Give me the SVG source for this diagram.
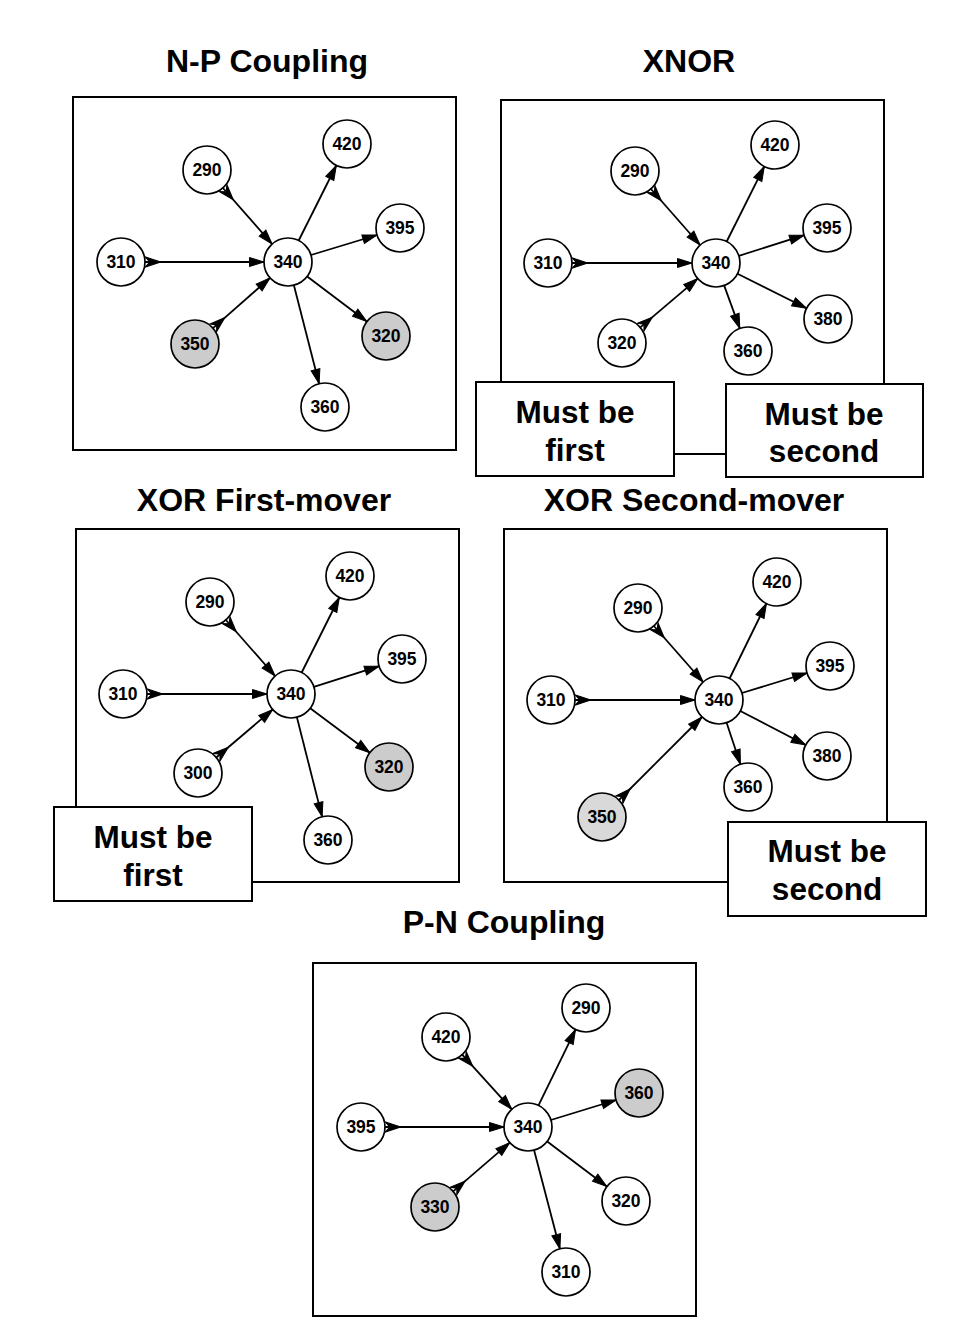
<svg xmlns="http://www.w3.org/2000/svg" width="960" height="1344" viewBox="0 0 960 1344">
<style>
.title{font-family:"Liberation Sans",Arial,sans-serif;font-weight:bold;font-size:32px;text-anchor:middle;fill:#000}
.note{font-family:"Liberation Sans",Arial,sans-serif;font-weight:bold;font-size:31.5px;text-anchor:middle;fill:#000}
.lbl{font-family:"Liberation Sans",Arial,sans-serif;font-weight:bold;font-size:17.5px;text-anchor:middle;fill:#000}
.panel{fill:#fff;stroke:#000;stroke-width:2}
.nbox{fill:#fff;stroke:#000;stroke-width:2}
.n{fill:#fff;stroke:#000;stroke-width:1.7}
.g{fill:#cccccc;stroke:#000;stroke-width:1.7}
.g2{fill:#d9d9d9;stroke:#000;stroke-width:1.7}
.e{stroke:#000;stroke-width:1.8;fill:none;marker-end:url(#arr)}
.in{marker-start:url(#tail)}
</style>
<defs>
<marker id="arr" markerUnits="userSpaceOnUse" markerWidth="16" markerHeight="12" refX="15" refY="6" orient="auto" overflow="visible">
<path d="M0.5,1.5 L15,6 L0.5,10.5 Z" fill="#000" stroke="#000" stroke-width="1" stroke-linejoin="miter"/>
</marker>
<marker id="tail" markerUnits="userSpaceOnUse" markerWidth="17" markerHeight="13" refX="0" refY="6.5" orient="auto" overflow="visible">
<path d="M0.5,1.5 L15.5,6.5 L0.5,11.5 L5,6.5 Z" fill="#000" stroke="#000" stroke-width="1.2" stroke-linejoin="miter"/>
</marker>
</defs>
<rect width="960" height="1344" fill="#fff"/>

<g id="titles">
<text class="title" x="267" y="72">N-P Coupling</text>
<text class="title" x="689" y="72">XNOR</text>
<text class="title" x="264" y="511">XOR First-mover</text>
<text class="title" x="694" y="511">XOR Second-mover</text>
<text class="title" x="504" y="933">P-N Coupling</text>
</g>

<g id="panels">
<rect class="panel" x="73" y="97" width="383" height="353"/>
<rect class="panel" x="501" y="100" width="383" height="354"/>
<rect class="panel" x="76" y="529" width="383" height="353"/>
<rect class="panel" x="504" y="529" width="383" height="353"/>
<rect class="panel" x="313" y="963" width="383" height="353"/>
</g>

<g id="connectors">
<!-- Panel 1 -->
<line class="e in" x1="222.9" y1="188" x2="272.1" y2="244"/>
<line class="e in" x1="145" y1="262" x2="264" y2="262"/>
<line class="e in" x1="213" y1="328.1" x2="270" y2="277.9"/>
<line class="e" x1="298.7" y1="240.5" x2="336.3" y2="165.5"/>
<line class="e" x1="311" y1="255" x2="377" y2="235"/>
<line class="e" x1="307.2" y1="276.5" x2="366.8" y2="321.5"/>
<line class="e" x1="293.9" y1="285.3" x2="319.1" y2="383.7"/>
<!-- Panel 2 -->
<line class="e in" x1="650.9" y1="189" x2="700.1" y2="245"/>
<line class="e in" x1="572" y1="263" x2="692" y2="263"/>
<line class="e in" x1="640.3" y1="327.4" x2="697.7" y2="278.6"/>
<line class="e" x1="726.7" y1="241.5" x2="764.3" y2="166.5"/>
<line class="e" x1="738.9" y1="255.8" x2="804.1" y2="235.2"/>
<line class="e" x1="737.5" y1="273.7" x2="806.5" y2="308.3"/>
<line class="e" x1="724.2" y1="285.6" x2="739.8" y2="328.4"/>
<!-- Panel 3 -->
<line class="e in" x1="225.9" y1="620" x2="275.1" y2="676"/>
<line class="e in" x1="147" y1="694" x2="267" y2="694"/>
<line class="e in" x1="216.3" y1="757.5" x2="272.7" y2="709.5"/>
<line class="e" x1="301.7" y1="672.5" x2="339.3" y2="597.5"/>
<line class="e" x1="313.9" y1="686.8" x2="379.1" y2="666.2"/>
<line class="e" x1="310.2" y1="708.3" x2="369.8" y2="752.7"/>
<line class="e" x1="296.9" y1="717.3" x2="322.1" y2="816.7"/>
<!-- Panel 4 -->
<line class="e in" x1="653.9" y1="626" x2="703.1" y2="682"/>
<line class="e in" x1="575" y1="700" x2="695" y2="700"/>
<line class="e in" x1="619" y1="800" x2="702" y2="717"/>
<line class="e" x1="729.6" y1="678.5" x2="766.4" y2="603.5"/>
<line class="e" x1="741.9" y1="693" x2="807.1" y2="673"/>
<line class="e" x1="740.3" y1="711" x2="805.7" y2="745"/>
<line class="e" x1="726.6" y1="722.8" x2="740.4" y2="764.2"/>
<!-- Panel 5 -->
<line class="e in" x1="462.2" y1="1054.7" x2="511.8" y2="1109.3"/>
<line class="e in" x1="385" y1="1127" x2="504" y2="1127"/>
<line class="e in" x1="453.2" y1="1191.4" x2="509.8" y2="1142.6"/>
<line class="e" x1="538.5" y1="1105.4" x2="575.5" y2="1029.6"/>
<line class="e" x1="550.9" y1="1120" x2="616.1" y2="1100"/>
<line class="e" x1="547.2" y1="1141.5" x2="606.8" y2="1186.5"/>
<line class="e" x1="534.1" y1="1150.2" x2="559.9" y2="1248.8"/>
<!-- note link -->
<line x1="674" y1="454" x2="726" y2="454" stroke="#000" stroke-width="2"/>
</g>

<!-- Panel 1 nodes -->
<g id="p1-290"><circle class="n" cx="207" cy="170" r="24"/><text class="lbl" x="207" y="176">290</text></g>
<g id="p1-310"><circle class="n" cx="121" cy="262" r="24"/><text class="lbl" x="121" y="268">310</text></g>
<g id="p1-340"><circle class="n" cx="288" cy="262" r="24"/><text class="lbl" x="288" y="268">340</text></g>
<g id="p1-350"><circle class="g" cx="195" cy="344" r="24"/><text class="lbl" x="195" y="350">350</text></g>
<g id="p1-420"><circle class="n" cx="347" cy="144" r="24"/><text class="lbl" x="347" y="150">420</text></g>
<g id="p1-395"><circle class="n" cx="400" cy="228" r="24"/><text class="lbl" x="400" y="234">395</text></g>
<g id="p1-320"><circle class="g" cx="386" cy="336" r="24"/><text class="lbl" x="386" y="342">320</text></g>
<g id="p1-360"><circle class="n" cx="325" cy="407" r="24"/><text class="lbl" x="325" y="413">360</text></g>

<!-- Panel 2 nodes -->
<g id="p2-290"><circle class="n" cx="635" cy="171" r="24"/><text class="lbl" x="635" y="177">290</text></g>
<g id="p2-310"><circle class="n" cx="548" cy="263" r="24"/><text class="lbl" x="548" y="269">310</text></g>
<g id="p2-340"><circle class="n" cx="716" cy="263" r="24"/><text class="lbl" x="716" y="269">340</text></g>
<g id="p2-320"><circle class="n" cx="622" cy="343" r="24"/><text class="lbl" x="622" y="349">320</text></g>
<g id="p2-420"><circle class="n" cx="775" cy="145" r="24"/><text class="lbl" x="775" y="151">420</text></g>
<g id="p2-395"><circle class="n" cx="827" cy="228" r="24"/><text class="lbl" x="827" y="234">395</text></g>
<g id="p2-380"><circle class="n" cx="828" cy="319" r="24"/><text class="lbl" x="828" y="325">380</text></g>
<g id="p2-360"><circle class="n" cx="748" cy="351" r="24"/><text class="lbl" x="748" y="357">360</text></g>
<g id="p2-first"><rect class="nbox" x="476" y="382" width="198" height="94"/><text class="note" x="575" y="423">Must be</text><text class="note" x="575" y="461">first</text></g>
<g id="p2-second"><rect class="nbox" x="726" y="384" width="197" height="93"/><text class="note" x="824" y="425">Must be</text><text class="note" x="824" y="462">second</text></g>

<!-- Panel 3 nodes -->
<g id="p3-290"><circle class="n" cx="210" cy="602" r="24"/><text class="lbl" x="210" y="608">290</text></g>
<g id="p3-310"><circle class="n" cx="123" cy="694" r="24"/><text class="lbl" x="123" y="700">310</text></g>
<g id="p3-340"><circle class="n" cx="291" cy="694" r="24"/><text class="lbl" x="291" y="700">340</text></g>
<g id="p3-300"><circle class="n" cx="198" cy="773" r="24"/><text class="lbl" x="198" y="779">300</text></g>
<g id="p3-420"><circle class="n" cx="350" cy="576" r="24"/><text class="lbl" x="350" y="582">420</text></g>
<g id="p3-395"><circle class="n" cx="402" cy="659" r="24"/><text class="lbl" x="402" y="665">395</text></g>
<g id="p3-320"><circle class="g" cx="389" cy="767" r="24"/><text class="lbl" x="389" y="773">320</text></g>
<g id="p3-360"><circle class="n" cx="328" cy="840" r="24"/><text class="lbl" x="328" y="846">360</text></g>
<g id="p3-first"><rect class="nbox" x="54" y="807" width="198" height="94"/><text class="note" x="153" y="848">Must be</text><text class="note" x="153" y="886">first</text></g>

<!-- Panel 4 nodes -->
<g id="p4-290"><circle class="n" cx="638" cy="608" r="24"/><text class="lbl" x="638" y="614">290</text></g>
<g id="p4-310"><circle class="n" cx="551" cy="700" r="24"/><text class="lbl" x="551" y="706">310</text></g>
<g id="p4-340"><circle class="n" cx="719" cy="700" r="24"/><text class="lbl" x="719" y="706">340</text></g>
<g id="p4-350"><circle class="g2" cx="602" cy="817" r="24"/><text class="lbl" x="602" y="823">350</text></g>
<g id="p4-420"><circle class="n" cx="777" cy="582" r="24"/><text class="lbl" x="777" y="588">420</text></g>
<g id="p4-395"><circle class="n" cx="830" cy="666" r="24"/><text class="lbl" x="830" y="672">395</text></g>
<g id="p4-380"><circle class="n" cx="827" cy="756" r="24"/><text class="lbl" x="827" y="762">380</text></g>
<g id="p4-360"><circle class="n" cx="748" cy="787" r="24"/><text class="lbl" x="748" y="793">360</text></g>
<g id="p4-second"><rect class="nbox" x="728" y="822" width="198" height="94"/><text class="note" x="827" y="862">Must be</text><text class="note" x="827" y="900">second</text></g>

<!-- Panel 5 nodes -->
<g id="p5-420"><circle class="n" cx="446" cy="1037" r="24"/><text class="lbl" x="446" y="1043">420</text></g>
<g id="p5-395"><circle class="n" cx="361" cy="1127" r="24"/><text class="lbl" x="361" y="1133">395</text></g>
<g id="p5-340"><circle class="n" cx="528" cy="1127" r="24"/><text class="lbl" x="528" y="1133">340</text></g>
<g id="p5-330"><circle class="g" cx="435" cy="1207" r="24"/><text class="lbl" x="435" y="1213">330</text></g>
<g id="p5-290"><circle class="n" cx="586" cy="1008" r="24"/><text class="lbl" x="586" y="1014">290</text></g>
<g id="p5-360"><circle class="g" cx="639" cy="1093" r="24"/><text class="lbl" x="639" y="1099">360</text></g>
<g id="p5-320"><circle class="n" cx="626" cy="1201" r="24"/><text class="lbl" x="626" y="1207">320</text></g>
<g id="p5-310"><circle class="n" cx="566" cy="1272" r="24"/><text class="lbl" x="566" y="1278">310</text></g>
</svg>
